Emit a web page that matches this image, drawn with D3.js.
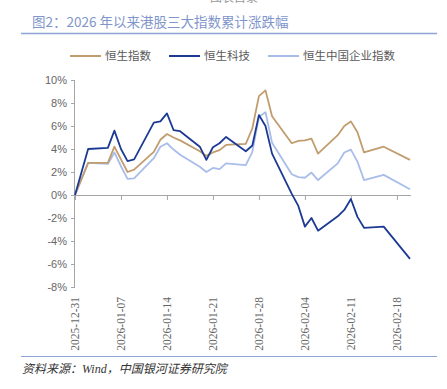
<!DOCTYPE html>
<html>
<head>
<meta charset="utf-8">
<script src="https://cdn.jsdelivr.net/npm/d3@7"></script>
<style>
  body { margin: 0; background: #fff; }
  svg { display: block; }
</style>
</head>
<body>
<svg width="447" height="389"></svg>
<script>
// trading days
const dates = [
  "2025-12-31", "2026-01-02", "2026-01-05", "2026-01-06", "2026-01-07", "2026-01-08", "2026-01-09",
  "2026-01-12", "2026-01-13", "2026-01-14", "2026-01-15", "2026-01-16",
  "2026-01-19", "2026-01-20", "2026-01-21", "2026-01-22", "2026-01-23",
  "2026-01-26", "2026-01-27", "2026-01-28", "2026-01-29", "2026-01-30",
  "2026-02-02", "2026-02-03", "2026-02-04", "2026-02-05", "2026-02-06",
  "2026-02-09", "2026-02-10", "2026-02-11", "2026-02-12", "2026-02-13",
  "2026-02-16", "2026-02-20"
];

// cumulative change, %
const hsi = [0, 2.8, 2.8, 4.2, 3.1, 2.0, 2.2, 3.75, 4.8, 5.3, 5.0, 4.75, 3.8, 3.4, 3.7, 3.9, 4.35,
  4.45, 5.8, 8.6, 9.1, 6.85, 4.5, 4.7, 4.75, 4.9, 3.6, 5.2, 6.0, 6.4, 5.45, 3.7, 4.2, 3.05];
const hstech = [0, 4.0, 4.1, 5.6, 4.0, 2.95, 3.1, 6.3, 6.4, 7.1, 5.65, 5.55, 4.2, 3.05, 4.15, 4.5, 5.05,
  3.8, 4.3, 6.95, 6.0, 3.6, 0.1, -0.95, -2.75, -2.0, -3.1, -1.85, -1.3, -0.35, -1.9, -2.85, -2.75, -5.55];
const hscei = [0, 2.8, 2.7, 3.7, 2.5, 1.4, 1.45, 3.2, 4.2, 4.5, 3.95, 3.5, 2.45, 2.0, 2.35, 2.25, 2.75,
  2.6, 3.75, 6.8, 7.2, 4.55, 1.8, 1.55, 1.5, 1.95, 1.3, 2.75, 3.7, 3.95, 2.9, 1.3, 1.75, 0.5];

const seriesNames = ["恒生指数", "恒生科技", "恒生中国企业指数"];
const tickDates = ["2025-12-31", "2026-01-07", "2026-01-14", "2026-01-21", "2026-01-28", "2026-02-04", "2026-02-11", "2026-02-18"];
const yTicks = [-8, -6, -4, -2, 0, 2, 4, 6, 8, 10];

const colors = ["#c19d6e", "#1c3a94", "#a8bdea"];
const parse = d3.timeParse("%Y-%m-%d");

const svg = d3.select("svg");

// cut-off text from previous page section
svg.append("text")
  .attr("x", 210).attr("y", 2)
  .style("font-family", "Noto Sans CJK SC").style("font-size", "12px")
  .style("fill", "#999")
  .text("图表目录");

// title
svg.append("text")
  .attr("x", 32).attr("y", 27)
  .style("font-family", "Noto Sans CJK SC").style("font-size", "13.5px")
  .style("fill", "#7f95cc")
  .text("图2：2026 年以来港股三大指数累计涨跌幅");

svg.append("line")
  .attr("x1", 21).attr("x2", 437).attr("y1", 33.5).attr("y2", 33.5)
  .attr("stroke", "#8ea4d6").attr("stroke-width", 1.5);

// legend
const legendX = [70, 169, 268];
const legend = svg.append("g");
seriesNames.forEach((name, i) => {
  legend.append("line")
    .attr("x1", legendX[i]).attr("x2", legendX[i] + 31)
    .attr("y1", 56).attr("y2", 56)
    .attr("stroke", colors[i]).attr("stroke-width", 2);
  legend.append("text")
    .attr("x", legendX[i] + 35).attr("y", 60)
    .style("font-family", "Noto Sans CJK SC").style("font-size", "11.5px")
    .style("fill", "#595959")
    .text(name);
});

// scales
const x = d3.scaleTime()
  .domain([parse("2025-12-31"), parse("2026-02-20")])
  .range([75, 410]);
const y = d3.scaleLinear().domain([-8, 10]).range([287, 80]);

// y axis
const yAxis = svg.append("g")
  .attr("transform", "translate(75,0)")
  .call(d3.axisLeft(y).tickValues(yTicks).tickSize(4).tickFormat(d => d + "%"));
yAxis.select(".domain").attr("stroke", "#a6a6a6").attr("d", `M-0.5,${y(-8)}V${y(10)}`);
yAxis.selectAll(".tick line").attr("stroke", "#a6a6a6");
yAxis.selectAll(".tick text")
  .attr("x", -8)
  .style("font-family", "Liberation Sans").style("font-size", "11px")
  .style("fill", "#666");

// x axis at 0%
const xAxis = svg.append("g")
  .attr("transform", `translate(0,${y(0)})`)
  .call(d3.axisBottom(x).tickValues(tickDates.map(parse)).tickSize(5).tickFormat(""));
xAxis.select(".domain").attr("stroke", "#a6a6a6").attr("d", `M75,0.5H411`);
xAxis.selectAll(".tick line").attr("stroke", "#a6a6a6");

// rotated date labels
svg.append("g").selectAll("text")
  .data(tickDates)
  .join("text")
  .attr("transform", d => `translate(${x(parse(d)) + 4},297) rotate(-90)`)
  .attr("text-anchor", "end")
  .style("font-family", "Liberation Serif").style("font-size", "11.5px")
  .style("fill", "#666")
  .text(d => d);

// lines
const lineGen = d3.line()
  .x((d, i) => x(parse(dates[i])))
  .y(d => y(d));

// draw order: light, gold, blue on top
[[hscei, 2], [hsi, 0], [hstech, 1]].forEach(([vals, ci]) => {
  svg.append("path")
    .datum(vals)
    .attr("d", lineGen)
    .attr("fill", "none")
    .attr("stroke", colors[ci])
    .attr("stroke-width", 1.8)
    .attr("stroke-linejoin", "round");
});

// bottom rule and source
svg.append("line")
  .attr("x1", 21).attr("x2", 437).attr("y1", 356.5).attr("y2", 356.5)
  .attr("stroke", "#8ea4d6").attr("stroke-width", 1.2);

svg.append("text")
  .attr("x", 22).attr("y", 373)
  .style("font-family", "Liberation Serif, Noto Sans CJK SC").style("font-size", "12px")
  .style("font-style", "italic")
  .style("fill", "#333")
  .text("资料来源：Wind，中国银河证券研究院");
</script>
</body>
</html>
